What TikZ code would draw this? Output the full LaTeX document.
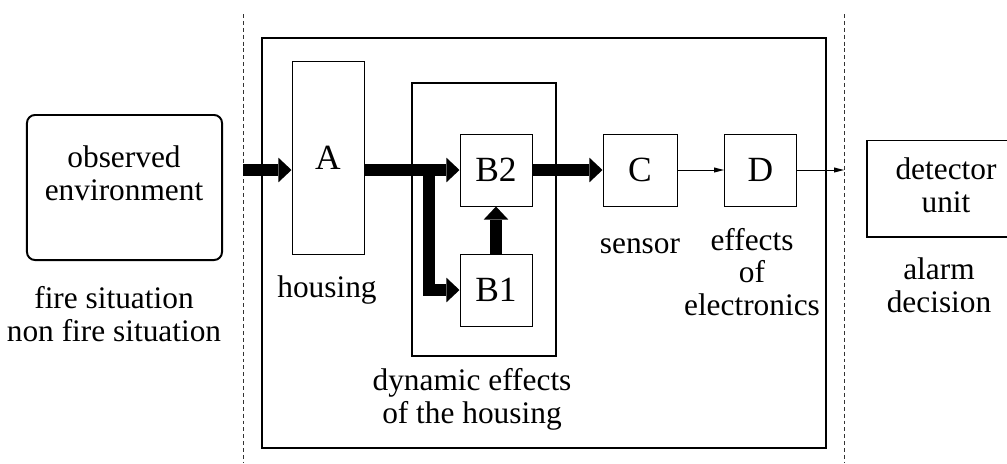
\documentclass[tikz,border=0pt]{standalone}
\usepackage{fontspec}
\setmainfont{Liberation Serif}
\usetikzlibrary{arrows.meta}
\newcommand\lblfont{\fontsize{22.3}{22.8}\selectfont}
\newcommand\blkfont{\fontsize{25.2}{27}\selectfont}

\begin{document}
\begin{tikzpicture}[x=0.025cm, y=-0.025cm,
  lbl/.style={align=center, font=\lblfont, inner sep=0pt},
  blk/.style={draw, line width=0.7pt, minimum width=1.8cm, minimum height=1.8cm, inner sep=0pt, font=\blkfont},
  outer/.style={draw, line width=1.4pt, inner sep=0pt},
  fat/.style={line width=0.3cm, -{Triangle[length=0.33cm, width=0.62cm, line width=0pt]}},
  slim/.style={line width=0.7pt, -{Triangle[length=0.25cm, width=0.13cm, line width=0pt]}},
  sep/.style={dash pattern=on 2.8pt off 2.1pt, line width=0.5pt, black!80}]

\useasboundingbox (0,0) rectangle (1007,463);
\clip (0,0) rectangle (1007,463);

% ---- boundaries ---------------------------------------------------------------------
\draw[sep] (243,14) -- (243,463);
\draw[sep] (844,14) -- (844,463);

% ---- observed environment -----------------------------------------------------------
\node[outer, rounded corners=0.2cm, minimum width=4.875cm, minimum height=3.625cm] (env) at (124.5,187.5) {};
\node[lbl, anchor=base] (envtxt) at (124,200) {observed\\environment};
\node[lbl, anchor=base] (sit) at (114,341) {fire situation\\non fire situation};

% ---- detector -----------------------------------------------------------------------
\node[outer, minimum width=14.1cm, minimum height=10.25cm] (det) at (544,243) {};
\node[outer, minimum width=3.6cm, minimum height=6.825cm] (dyn) at (484,219.5) {};

\node[blk, minimum height=4.8cm] (A) at (328,158) {A};
\node[blk] (B2) at (496,170) {B2};
\node[blk] (B1) at (496,290) {B1};
\node[blk, minimum width=1.85cm] (C) at (640,170) {C};
\node[blk] (D) at (760.5,170) {D};

\node[lbl, anchor=base] (hous) at (327,297) {housing};
\node[lbl, anchor=base] (dyntxt) at (472,423) {dynamic effects\\of the housing};
\node[lbl, anchor=base] (sens) at (640,253) {sensor};
\node[lbl, anchor=base] (elec) at (752,315) {effects\\of\\electronics};

% ---- detector unit ------------------------------------------------------------------
\node[outer, minimum width=6cm, minimum height=2.4cm] (unit) at (987,188.5) {};
\node[lbl, anchor=base] (unittxt) at (946,212) {detector\\unit};
\node[lbl, anchor=base] (alarm) at (939,312) {alarm\\decision};

% ---- signal flow --------------------------------------------------------------------
\coordinate (inL) at (243,170);
\coordinate (split) at (429,170);
\coordinate (outR) at (844,170);

\draw[fat] (inL) -- (A.west |- inL);
\draw[fat] (A.east |- B2.west) -- (B2.west);
\draw[fat] (split) |- (B1.west);
\draw[fat] (B1.north) -- (B2.south);
\draw[fat] (B2.east) -- (C.west);
\draw[slim] (C.east) -- (D.west);
\draw[slim] (D.east) -- (outR);

\end{tikzpicture}
\end{document}
